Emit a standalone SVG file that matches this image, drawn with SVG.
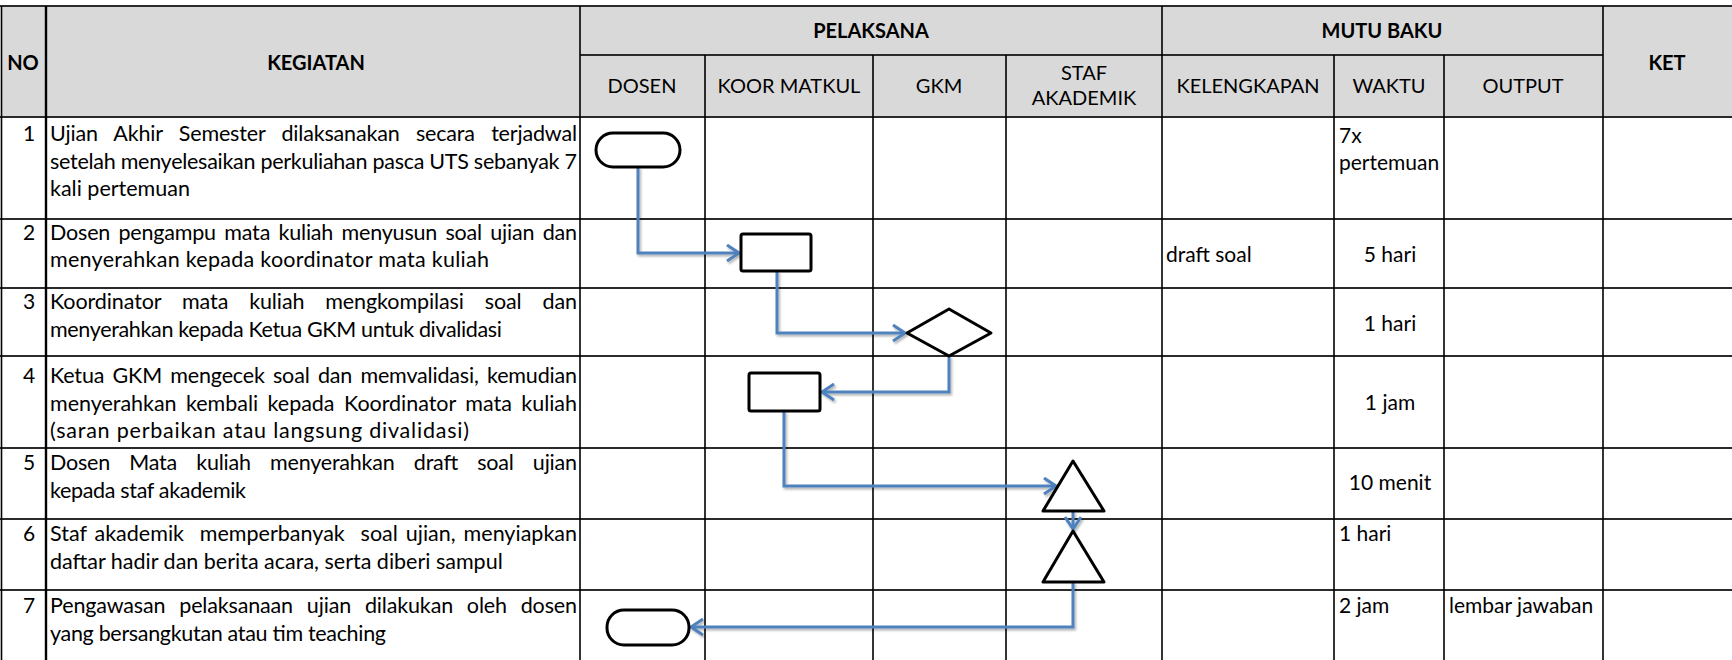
<svg xmlns="http://www.w3.org/2000/svg" width="1732" height="660" viewBox="0 0 1732 660">
  <style>
    .txt { font-family: "Lato", "Carlito", "Liberation Sans", sans-serif; font-size: 21.5px; fill: #000; }
    .cell { font-family: "Lato", "Carlito", "Liberation Sans", sans-serif; font-size: 21px; fill: #000; }
    .lbl { font-family: "Lato", "Carlito", "Liberation Sans", sans-serif; font-size: 20px; fill: #000; }
    .hdr { font-family: "Lato", "Carlito", "Liberation Sans", sans-serif; font-size: 20px; font-weight: bold; fill: #000; }
    .mid { text-anchor: middle; }
    .hline { stroke: #2b2b2b; stroke-width: 2.2; }
    .vline { stroke: #000; stroke-width: 1.6; }
    .shape { fill: #fff; stroke: #000; stroke-width: 3; stroke-linejoin: round; }
    .conn { fill: none; stroke: #4f81bd; stroke-width: 3; stroke-linejoin: miter; }
  </style>
  <defs>
    <marker id="arrow" markerWidth="18" markerHeight="20" refX="13" refY="9" orient="auto" markerUnits="userSpaceOnUse">
      <path d="M1,1 L13,9 L1,17" fill="none" stroke="#4f81bd" stroke-width="3"/>
    </marker>
    <filter id="shadow" filterUnits="userSpaceOnUse" x="0" y="0" width="1732" height="660">
      <feDropShadow dx="1.5" dy="2" stdDeviation="1.2" flood-color="#000" flood-opacity="0.3"/>
    </filter>
  </defs>

  <rect width="1732" height="660" fill="#fff"/>

  <!-- table grid -->
  <g id="table">
    <rect x="1.5" y="6" width="1730.5" height="111" fill="#d9d9d9"/>
    <g class="hline">
      <line x1="0" y1="6" x2="1732" y2="6"/>
      <line x1="580" y1="55" x2="1603" y2="55"/>
      <line x1="0" y1="117" x2="1732" y2="117"/>
      <line x1="0" y1="219" x2="1732" y2="219"/>
      <line x1="0" y1="288" x2="1732" y2="288"/>
      <line x1="0" y1="356" x2="1732" y2="356"/>
      <line x1="0" y1="448" x2="1732" y2="448"/>
      <line x1="0" y1="519" x2="1732" y2="519"/>
      <line x1="0" y1="590" x2="1732" y2="590"/>
    </g>
    <g class="vline">
      <line x1="1.5" y1="6" x2="1.5" y2="660"/>
      <line x1="46" y1="6" x2="46" y2="660" stroke-width="2.4"/>
      <line x1="580" y1="6" x2="580" y2="660"/>
      <line x1="705" y1="55" x2="705" y2="660"/>
      <line x1="873" y1="55" x2="873" y2="660"/>
      <line x1="1006" y1="55" x2="1006" y2="660"/>
      <line x1="1162" y1="6" x2="1162" y2="660"/>
      <line x1="1334" y1="55" x2="1334" y2="660"/>
      <line x1="1444" y1="55" x2="1444" y2="660"/>
      <line x1="1603" y1="6" x2="1603" y2="660"/>
    </g>
  </g>

  <!-- header labels -->
  <g id="header">
    <text class="hdr mid" x="23" y="70">NO</text>
    <text class="hdr mid" x="316" y="70">KEGIATAN</text>
    <text class="hdr mid" x="871" y="38">PELAKSANA</text>
    <text class="hdr mid" x="1382" y="38">MUTU BAKU</text>
    <text class="hdr mid" x="1667" y="70">KET</text>
    <text class="lbl mid" x="642" y="93">DOSEN</text>
    <text class="lbl mid" x="789" y="93">KOOR MATKUL</text>
    <text class="lbl mid" x="939" y="93">GKM</text>
    <text class="lbl mid" x="1084" y="80">STAF</text>
    <text class="lbl mid" x="1084" y="105">AKADEMIK</text>
    <text class="lbl mid" x="1248" y="93">KELENGKAPAN</text>
    <text class="lbl mid" x="1389" y="93">WAKTU</text>
    <text class="lbl mid" x="1523" y="93">OUTPUT</text>
  </g>

  <!-- activity rows -->
  <g id="row1">
    <text class="cell mid" x="29" y="141">1</text>
    <text class="txt" x="50" y="141" word-spacing="11" textLength="527">Ujian Akhir Semester dilaksanakan secara terjadwal</text>
    <text class="txt" x="50" y="168.5" textLength="527">setelah menyelesaikan perkuliahan pasca UTS sebanyak 7</text>
    <text class="txt" x="50" y="196">kali pertemuan</text>
    <text class="cell" x="1339" y="143">7x</text>
    <text class="cell" x="1339" y="170">pertemuan</text>
  </g>
  <g id="row2">
    <text class="cell mid" x="29" y="240">2</text>
    <text class="txt" x="50" y="240" word-spacing="3" textLength="527">Dosen pengampu mata kuliah menyusun soal ujian dan</text>
    <text class="txt" x="50" y="267" textLength="439">menyerahkan kepada koordinator mata kuliah</text>
    <text class="cell" x="1166" y="261.5">draft soal</text>
    <text class="cell mid" x="1390" y="261.5">5 hari</text>
  </g>
  <g id="row3">
    <text class="cell mid" x="29" y="309">3</text>
    <text class="txt" x="50" y="309" word-spacing="15.5" textLength="527">Koordinator mata kuliah mengkompilasi soal dan</text>
    <text class="txt" x="50" y="336.5" textLength="452">menyerahkan kepada Ketua GKM untuk divalidasi</text>
    <text class="cell mid" x="1390" y="330.5">1 hari</text>
  </g>
  <g id="row4">
    <text class="cell mid" x="29" y="383">4</text>
    <text class="txt" x="50" y="383" word-spacing="3" textLength="527">Ketua GKM mengecek soal dan memvalidasi, kemudian</text>
    <text class="txt" x="50" y="410.5" word-spacing="4" textLength="527">menyerahkan kembali kepada Koordinator mata kuliah</text>
    <text class="txt" x="50" y="438" textLength="419">(saran perbaikan atau langsung divalidasi)</text>
    <text class="cell mid" x="1390" y="409.5">1 jam</text>
  </g>
  <g id="row5">
    <text class="cell mid" x="29" y="470">5</text>
    <text class="txt" x="50" y="470" word-spacing="14" textLength="527">Dosen Mata kuliah menyerahkan draft soal ujian</text>
    <text class="txt" x="50" y="497.5" textLength="196">kepada staf akademik</text>
    <text class="cell mid" x="1390" y="490">10 menit</text>
  </g>
  <g id="row6">
    <text class="cell mid" x="29" y="541">6</text>
    <text class="txt" x="50" y="541" word-spacing="2.4" textLength="527" style="white-space: pre">Staf akademik  memperbanyak  soal ujian, menyiapkan</text>
    <text class="txt" x="50" y="568.5">daftar hadir dan berita acara, serta diberi sampul</text>
    <text class="cell" x="1339" y="541">1 hari</text>
  </g>
  <g id="row7">
    <text class="cell mid" x="29" y="613">7</text>
    <text class="txt" x="50" y="613" word-spacing="8.5" textLength="527">Pengawasan pelaksanaan ujian dilakukan oleh dosen</text>
    <text class="txt" x="50" y="640.5" textLength="336">yang bersangkutan atau tim teaching</text>
    <text class="cell" x="1339" y="613">2 jam</text>
    <text class="cell" x="1449" y="613">lembar jawaban</text>
  </g>

  <!-- flow connectors -->
  <g id="connectors" filter="url(#shadow)">
    <path class="conn" d="M638,167 V253 H739" marker-end="url(#arrow)"/>
    <path class="conn" d="M777,271 V333 H905" marker-end="url(#arrow)"/>
    <path class="conn" d="M949,356 V392 H822" marker-end="url(#arrow)"/>
    <path class="conn" d="M784,411 V486 H1056" marker-end="url(#arrow)"/>
    <path class="conn" d="M1073,511 V529" marker-end="url(#arrow)"/>
    <path class="conn" d="M1073,582 V627 H691" marker-end="url(#arrow)"/>
  </g>

  <!-- flow symbols -->
  <g id="start">
    <rect class="shape" x="596" y="133" width="84" height="34" rx="17"/>
  </g>
  <g id="draft">
    <rect class="shape" x="741" y="234" width="70" height="37" rx="2"/>
  </g>
  <g id="validate">
    <polygon class="shape" points="907,333 949,309 991,333 949,356"/>
  </g>
  <g id="revise">
    <rect class="shape" x="749" y="373" width="71" height="38" rx="2"/>
  </g>
  <g id="handover">
    <polygon class="shape" points="1073,461 1104,511 1043,511"/>
  </g>
  <g id="copy">
    <polygon class="shape" points="1073,531 1104,582 1043,582"/>
  </g>
  <g id="end">
    <rect class="shape" x="607" y="610" width="82" height="35" rx="17"/>
  </g>
</svg>
